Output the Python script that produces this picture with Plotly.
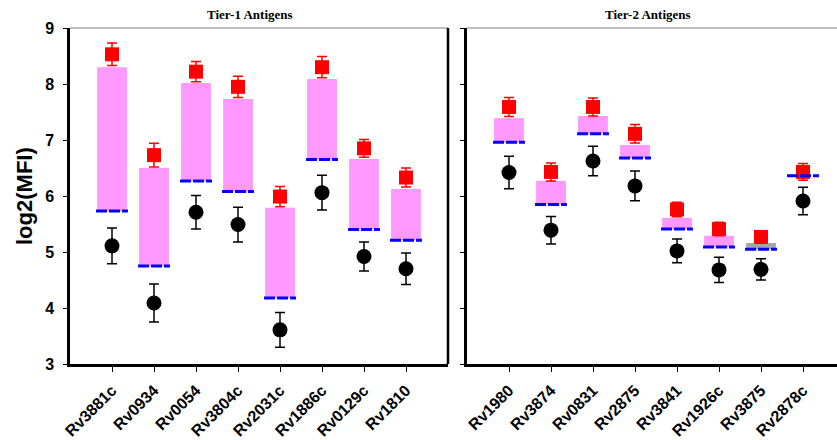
import plotly.graph_objects as go

# ---------------- data ----------------
tier1_names = ["Rv3881c", "Rv0934", "Rv0054", "Rv3804c", "Rv2031c", "Rv1886c", "Rv0129c", "Rv1810"]
tier1_base = [5.73, 4.75, 6.27, 6.08, 4.18, 6.65, 5.40, 5.21]
tier1_top = [8.30, 6.50, 8.02, 7.73, 5.79, 8.09, 6.66, 6.125]
tier1_red = [8.53, 6.73, 8.22, 7.95, 5.99, 8.30, 6.85, 6.33]
tier1_red_err = [0.20, 0.21, 0.18, 0.19, 0.18, 0.19, 0.16, 0.17]
tier1_black = [5.11, 4.09, 5.71, 5.49, 3.61, 6.06, 4.92, 4.70]
tier1_black_err = [0.32, 0.34, 0.30, 0.31, 0.31, 0.31, 0.26, 0.28]

tier2_names = ["Rv1980", "Rv3874", "Rv0831", "Rv2875", "Rv3841", "Rv1926c", "Rv3875", "Rv2878c"]
tier2_base = [6.96, 5.85, 7.11, 6.68, 5.41, 5.09, 5.05, 6.36]
tier2_top = [7.39, 6.27, 7.43, 6.91, 5.61, 5.29, 5.16, 6.36]
tier2_red = [7.59, 6.43, 7.59, 7.11, 5.76, 5.41, 5.27, 6.43]
tier2_red_err = [0.17, 0.16, 0.16, 0.165, 0.13, 0.12, 0.11, 0.15]
tier2_black = [6.42, 5.39, 6.625, 6.18, 5.02, 4.68, 4.69, 5.91]
tier2_black_err = [0.29, 0.245, 0.265, 0.265, 0.21, 0.225, 0.19, 0.245]

y_ticks = [3, 4, 5, 6, 7, 8, 9]

# ---------------- style ----------------
PINK = "#ff99ff"
GREY_BARS = {"Rv3875"}
BAR_W = 0.71
LINE_HALF = 0.38

fig = go.Figure()


def add_panel(names, base, top, red, red_err, black, black_err, xa, ya):
    xs = list(range(1, len(names) + 1))
    colors = ["#a6a6a6" if n in GREY_BARS else PINK for n in names]
    fig.add_trace(go.Bar(
        x=xs, y=[t - b for t, b in zip(top, base)], base=base, width=BAR_W,
        marker=dict(color=colors, line=dict(width=0)),
        xaxis=xa, yaxis=ya, showlegend=False, hoverinfo="skip"))
    fig.add_trace(go.Scatter(
        x=xs, y=red, mode="markers",
        marker=dict(symbol="square", size=14, color="#ff0000"),
        error_y=dict(type="data", array=red_err, color="#ff0000", thickness=1.5, width=5),
        xaxis=xa, yaxis=ya, showlegend=False))
    fig.add_trace(go.Scatter(
        x=xs, y=black, mode="markers",
        marker=dict(symbol="circle", size=15, color="#000000"),
        error_y=dict(type="data", array=black_err, color="#000000", thickness=1.5, width=5),
        xaxis=xa, yaxis=ya, showlegend=False))
    lx, ly = [], []
    for x, b in zip(xs, base):
        lx += [x - LINE_HALF, x + LINE_HALF, None]
        ly += [b, b, None]
    fig.add_trace(go.Scatter(
        x=lx, y=ly, mode="lines",
        line=dict(color="#0000ff", width=3, dash="11px,2px"),
        xaxis=xa, yaxis=ya, showlegend=False, hoverinfo="skip"))


add_panel(tier1_names, tier1_base, tier1_top, tier1_red, tier1_red_err,
          tier1_black, tier1_black_err, "x", "y")
add_panel(tier2_names, tier2_base, tier2_top, tier2_red, tier2_red_err,
          tier2_black, tier2_black_err, "x2", "y2")

W, H = 837, 440
L, T, B = 70, 28, 76
PW = W - L
left_dom = [0, 378 / PW]
right_dom = [(467 - L) / PW, 1]

tickfont_x = dict(family="Liberation Sans, Arial", size=16, color="black", weight="bold")
tickfont_y = dict(family="Liberation Sans, Arial", size=16, color="black", weight="bold")

common_x = dict(showgrid=False, zeroline=False, showline=True, linecolor="black", linewidth=2.5,
                ticks="outside", ticklen=5, tickwidth=1.2, tickcolor="black",
                tickangle=-45, tickfont=tickfont_x, automargin=False, ticklabelstandoff=3)
common_y = dict(showgrid=False, zeroline=False, showline=True, linecolor="black", linewidth=2.5,
                ticks="outside", ticklen=4, tickwidth=1.2, tickcolor="black",
                range=[3, 9], tickvals=y_ticks, automargin=False)

fig.update_layout(
    width=W, height=H,
    margin=dict(l=L, r=0, t=T, b=B),
    paper_bgcolor="white", plot_bgcolor="white",
    barmode="overlay",
    xaxis=dict(domain=left_dom, range=[0, 9], tickvals=list(range(1, 9)),
               ticktext=tier1_names, anchor="y", **common_x),
    yaxis=dict(domain=[0, 1], anchor="x", tickfont=tickfont_y, ticklabelstandoff=6, **common_y),
    xaxis2=dict(domain=right_dom, range=[0, (W - 467) / 42], tickvals=list(range(1, 9)),
                ticktext=tier2_names, anchor="y2", **common_x),
    yaxis2=dict(domain=[0, 1], anchor="x2", showticklabels=False, **common_y),
)

shapes = [
    dict(type="line", xref="x domain", yref="y domain", x0=0, x1=1, y0=1, y1=1,
         line=dict(color="#a8a8a8", width=1.5)),
    dict(type="line", xref="x2 domain", yref="y2 domain", x0=0, x1=1, y0=1, y1=1,
         line=dict(color="#a8a8a8", width=1.5)),
    dict(type="line", xref="x domain", yref="y domain", x0=1, x1=1, y0=0, y1=1,
         line=dict(color="black", width=2.5)),
]
fig.update_layout(shapes=shapes)

title_font = dict(family="Liberation Serif, Times New Roman", size=13, color="black", weight="bold")
fig.add_annotation(text="Tier-1 Antigens", xref="paper", yref="paper",
                   x=(249.5 - L) / PW, y=1 + (T - 14.5) / (H - T - B),
                   xanchor="center", yanchor="middle", showarrow=False, font=title_font)
fig.add_annotation(text="Tier-2 Antigens", xref="paper", yref="paper",
                   x=(648 - L) / PW, y=1 + (T - 14.5) / (H - T - B),
                   xanchor="center", yanchor="middle", showarrow=False, font=title_font)
fig.add_annotation(text="log2(MFI)", xref="paper", yref="paper",
                   x=(24 - L) / PW, y=0.5, textangle=-90,
                   xanchor="center", yanchor="middle", showarrow=False,
                   font=dict(family="Liberation Sans, Arial", size=22, color="black", weight="bold"))

fig.write_html("out.html", config={"displayModeBar": False},
               post_script="document.body.style.margin='0';document.body.style.overflow='hidden';")
